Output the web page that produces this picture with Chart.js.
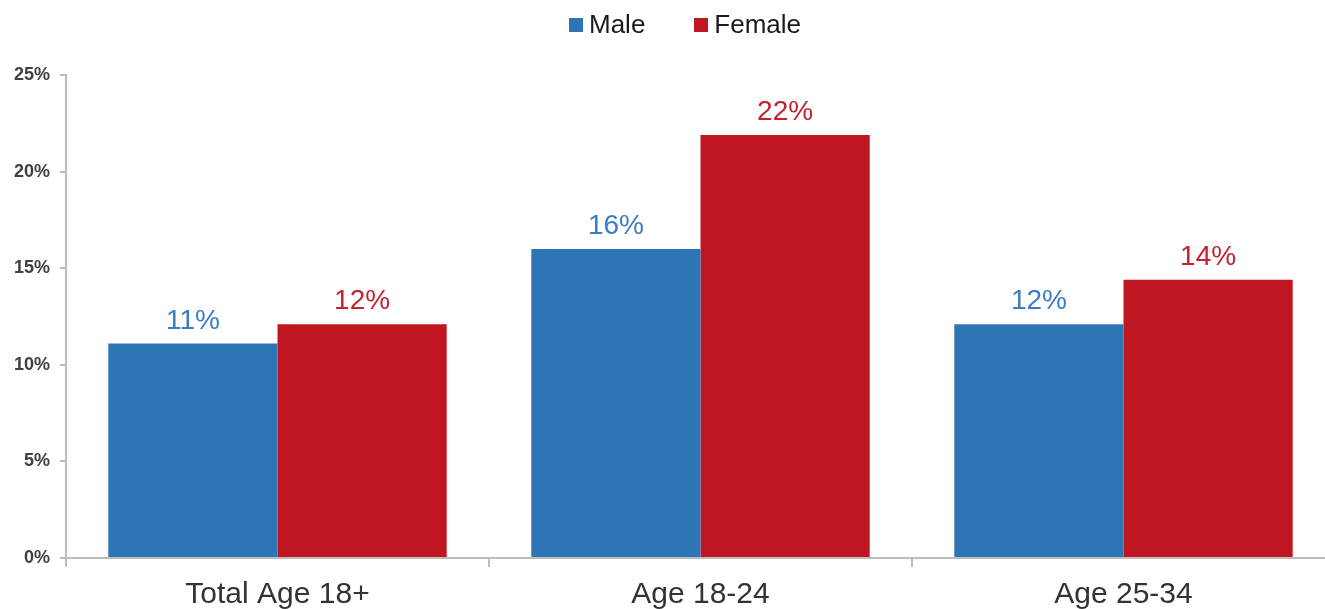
<!DOCTYPE html>
<html>
<head>
<meta charset="utf-8">
<script src="https://cdn.jsdelivr.net/npm/chart.js@4"></script>
<style>
  html, body { margin: 0; padding: 0; background: #fff; overflow: hidden; width: 1325px; height: 609px; }
  #wrap { position: absolute; left: 0; top: 0; width: 1335px; height: 623px; }
  #legend { position: absolute; top: 9px; left: 569px; display: flex; align-items: center;
            font-family: "Liberation Sans", Arial, sans-serif; font-size: 26px; color: #1a1a1a; }
  .item { display: flex; align-items: center; margin-right: 49px; }
  .box { width: 14px; height: 14px; margin-right: 6px; }
</style>
</head>
<body>
<div id="wrap"><canvas id="chart"></canvas></div>
<div id="legend"></div>
<script>
const categories = ["Total Age 18+", "Age 18-24", "Age 25-34"];
const maleValues = [11.1, 16.0, 12.1];
const femaleValues = [12.1, 21.9, 14.4];
const maleLabels = ["11%", "16%", "12%"];
const femaleLabels = ["12%", "22%", "14%"];
const yTicks = [0, 5, 10, 15, 20, 25];

const blue = '#2E75B6';
const red = '#BF1622';

// labels above each bar
const barLabels = {
    id: 'barLabels',
    afterDatasetsDraw(chart) {
        const ctx = chart.ctx;
        const texts = [maleLabels, femaleLabels];
        ctx.save();
        ctx.font = '28px "Liberation Sans", Arial, sans-serif';
        ctx.textAlign = 'center';
        ctx.textBaseline = 'alphabetic';
        chart.data.datasets.forEach((ds, i) => {
            chart.getDatasetMeta(i).data.forEach((bar, j) => {
                ctx.fillStyle = i === 0 ? '#3A7CC2' : '#C42230';
                ctx.fillText(texts[i][j], bar.x, bar.y - 15);
            });
        });
        ctx.restore();
    }
};

let chart = new Chart(document.getElementById('chart'), {
    type: 'bar',
    data: {
        labels: categories,
        datasets: [
            { label: 'Male', data: maleValues, backgroundColor: blue },
            { label: 'Female', data: femaleValues, backgroundColor: red }
        ]
    },
    options: {
        responsive: true,
        maintainAspectRatio: false,
        animation: false,
        layout: { padding: { top: 75, right: 0, left: 0, bottom: 0 } },
        datasets: { bar: { categoryPercentage: 0.8, barPercentage: 1.0 } },
        scales: {
            x: {
                grid: { offset: true, drawOnChartArea: false, tickLength: 9, color: '#bdbdbd', lineWidth: 2 },
                border: { color: '#bdbdbd', width: 2 },
                ticks: {
                    color: '#333',
                    padding: 10,
                    font: { family: '"Liberation Sans", Arial, sans-serif', size: 30 }
                }
            },
            y: {
                min: 0,
                max: 25,
                afterFit: s => { s.width = 66; },
                afterBuildTicks: s => { s.ticks = yTicks.map(v => ({ value: v })); },
                grid: { drawOnChartArea: false, tickLength: 6, color: '#bdbdbd', lineWidth: 2 },
                border: { color: '#bdbdbd', width: 2 },
                ticks: {
                    color: '#404040',
                    padding: 10,
                    callback: v => v + '%',
                    font: { family: '"Liberation Sans", Arial, sans-serif', size: 18, weight: 'bold' }
                }
            }
        },
        plugins: {
            legend: { display: false },
            tooltip: { enabled: false }
        }
    },
    plugins: [barLabels]
});

// legend built from the datasets
const legend = document.getElementById('legend');
chart.data.datasets.forEach(ds => {
    const item = document.createElement('div');
    item.className = 'item';
    item.innerHTML = `<span class="box" style="background:${ds.backgroundColor}"></span><span>${ds.label}</span>`;
    legend.appendChild(item);
});
</script>
</body>
</html>
